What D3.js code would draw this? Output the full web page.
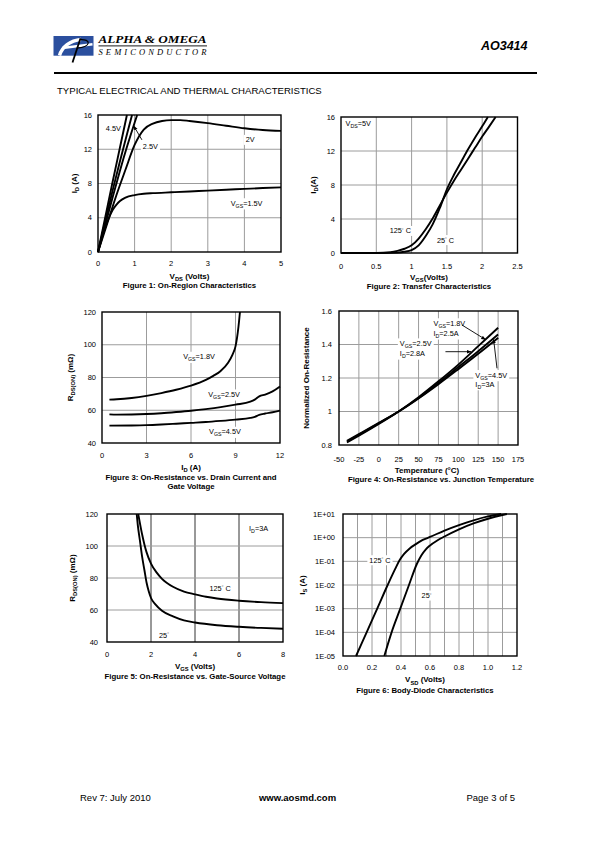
<!DOCTYPE html>
<html><head><meta charset="utf-8">
<script src="https://cdn.jsdelivr.net/npm/d3@7"></script>
<style>
body{margin:0;background:#fff}
svg{display:block}
text{fill:#000}
</style></head><body>
<script>
// ---------------- DATA ----------------
// Figure 1: On-Region Characteristics (VDS V, ID A)
const f1XTicks = [0,1,2,3,4,5];
const f1YTicks = [0,4,8,12,16];
const f1Vgs45 = [[0,0],[0.2,4.1],[0.4,8.2],[0.6,12.2],[0.79,16]];
const f1Vgs3  = [[0,0],[0.2,3.6],[0.4,7.2],[0.6,10.6],[0.8,13.9],[0.93,16]];
const f1Vgs25 = [[0,0],[0.2,3.2],[0.4,6.4],[0.6,9.5],[0.8,12.4],[1.0,15.1],[1.07,16]];
const f1Vgs2  = [[0,0],[0.25,3.3],[0.5,6.6],[0.75,9.6],[1.0,12.5],[1.25,14.3],[1.5,15.0],[1.75,15.3],[2.0,15.4],[2.25,15.4],[2.5,15.3],[3,15.05],[3.5,14.75],[4,14.45],[4.5,14.25],[5,14.15]];
const f1Vgs15 = [[0,0],[0.1,1.5],[0.2,2.9],[0.3,4.0],[0.4,4.9],[0.5,5.5],[0.6,5.95],[0.75,6.35],[1.0,6.65],[1.25,6.8],[1.5,6.87],[2,6.97],[2.5,7.07],[3,7.17],[3.5,7.27],[4,7.37],[4.5,7.47],[5,7.55]];

// Figure 2: Transfer Characteristics (VGS V, ID A)
const f2XTicks = [0,0.5,1,1.5,2,2.5];
const f2YTicks = [0,4,8,12,16];
const f2T25  = [[0,0],[0.6,0],[0.8,0.05],[0.9,0.15],[1.0,0.35],[1.1,0.9],[1.2,2.0],[1.3,3.4],[1.4,5.3],[1.5,7.5],[1.6,9.2],[1.7,10.7],[1.8,12.2],[1.9,13.6],[2.0,14.9],[2.08,16]];
const f2T125 = [[0,0],[0.5,0.01],[0.7,0.1],[0.8,0.25],[0.9,0.5],[1.0,0.9],[1.1,1.7],[1.2,2.8],[1.3,4.1],[1.4,5.6],[1.5,7.1],[1.6,8.5],[1.7,9.8],[1.8,11.1],[1.9,12.4],[2.0,13.7],[2.1,14.9],[2.19,16]];

// Figure 3: On-Resistance vs Drain Current (ID A, RDS mOhm)
const f3XTicks = [0,3,6,9,12];
const f3YTicks = [40,60,80,100,120];
const f3Vgs18 = [[0.5,66.5],[1,66.7],[2,67.5],[3,68.8],[4,70.5],[5,72.5],[6,75],[7,78.5],[7.5,81],[8,84],[8.5,89],[8.8,94],[9,99],[9.1,104],[9.2,111],[9.3,120]];
const f3Vgs25 = [[0.5,57.5],[1,57.3],[2,57.4],[3,57.7],[4,58.2],[5,58.9],[6,59.7],[7,60.7],[8,61.9],[9,63.4],[10,65.2],[10.3,66.5],[10.6,68.5],[11,69.6],[11.5,71.5],[12,74.5]];
const f3Vgs45 = [[0.5,50.6],[2,50.7],[3,50.9],[4,51.3],[5,51.8],[6,52.3],[7,52.8],[8,53.5],[9,54.3],[10,55.3],[10.3,56],[10.6,57.2],[11,58],[11.5,58.8],[12,59.8]];

// Figure 4: Normalized On-Resistance vs Junction Temperature
const f4XTicks = [-50,-25,0,25,50,75,100,125,150,175];
const f4YTicks = [0.8,1,1.2,1.4,1.6];
const f4Vgs18 = [[-40,0.815],[-25,0.855],[0,0.925],[25,1.0],[50,1.085],[75,1.18],[100,1.28],[125,1.39],[150,1.50]];
const f4Vgs25 = [[-40,0.82],[-25,0.86],[0,0.93],[25,1.0],[50,1.08],[75,1.17],[100,1.265],[125,1.36],[150,1.46]];
const f4Vgs45 = [[-40,0.825],[-25,0.865],[0,0.932],[25,1.0],[50,1.078],[75,1.163],[100,1.253],[125,1.345],[150,1.44]];

// Figure 5: On-Resistance vs Gate-Source Voltage (VGS V, RDS mOhm)
const f5XTicks = [0,2,4,6,8];
const f5YTicks = [40,60,80,100,120];
const f5T125 = [[1.42,120],[1.5,114],[1.6,107],[1.7,101],[1.8,96],[2.0,89],[2.25,83.5],[2.5,79.5],[3,74.5],[3.5,71.5],[4,69.8],[4.5,68.3],[5,67.2],[6,65.8],[7,64.9],[8,64.3]];
const f5T25  = [[1.35,120],[1.4,113],[1.5,103],[1.6,93],[1.7,85],[1.8,77],[1.9,71.5],[2.0,67.5],[2.2,63.5],[2.5,59.5],[3,56],[3.5,53.5],[4,52.2],[5,50.5],[6,49.5],[7,48.8],[8,48.3]];

// Figure 6: Body-Diode Characteristics (VSD V, IS A)
const f6XTicks = [0,0.2,0.4,0.6,0.8,1.0,1.2];
const f6YTicks = [1e-5,1e-4,1e-3,1e-2,1e-1,1,10];
const f6YLabels = ["1E-05","1E-04","1E-03","1E-02","1E-01","1E+00","1E+01"];
const f6T125 = [[0.09,1e-5],[0.163,1e-4],[0.236,1e-3],[0.308,1e-2],[0.36,0.048],[0.39,0.11],[0.42,0.2],[0.46,0.35],[0.5,0.52],[0.55,0.8],[0.6,1.07],[0.7,2.0],[0.8,3.4],[0.9,5.4],[1.0,7.9],[1.09,10]];
const f6T25  = [[0.285,1e-5],[0.335,1e-4],[0.395,1e-3],[0.455,1e-2],[0.51,0.079],[0.54,0.178],[0.57,0.316],[0.6,0.468],[0.65,0.76],[0.7,1.12],[0.8,2.24],[0.9,3.98],[1.0,6.3],[1.1,9.1],[1.13,10]];

// ---------------- DRAWING ----------------
const SANS = '"Liberation Sans",Arial,sans-serif';
const SERIF = '"Liberation Serif","Times New Roman",serif';
const svg = d3.select('body').append('svg').attr('width',595).attr('height',842).style('font-family',SANS);
svg.append('rect').attr('width',595).attr('height',842).attr('fill','#fff');
const defs = svg.append('defs');
defs.append('marker').attr('id','arr').attr('viewBox','0 0 10 10').attr('refX',9).attr('refY',5)
  .attr('markerWidth',5).attr('markerHeight',5).attr('orient','auto-start-reverse')
  .append('path').attr('d','M0,1 L10,5 L0,9 z').attr('fill','#000');

// rich text: parts = [[str, mode]] mode: 'sub' | 'sup' | undefined
function rich(sel, parts, fs) {
  let shift = 0;
  parts.forEach(p => {
    const t = sel.append('tspan').text(p[0]);
    let target = 0, size = fs;
    if (p[1] === 'sub') { target = fs*0.3; size = fs*0.72; }
    if (p[1] === 'sup') { target = -fs*0.35; size = fs*0.6; }
    t.attr('font-size', size);
    if (target !== shift) { t.attr('dy', target - shift); shift = target; }
  });
  return sel;
}

// Header
const logo = svg.append('g');
logo.append('rect').attr('x',53.5).attr('y',36).attr('width',40).attr('height',19.7).attr('fill','#2b4f9e');
logo.append('path').attr('d','M59.5,55.5 C62,47 70,40.5 81,39.5').attr('stroke','#fff').attr('stroke-width',3.4).attr('fill','none');
logo.append('path').attr('d','M62.5,48 L92.5,44.3').attr('stroke','#fff').attr('stroke-width',2.4).attr('fill','none');
logo.append('path').attr('d','M80.5,38.2 L72.5,62.5').attr('stroke','#000').attr('stroke-width',1.8).attr('fill','none');
logo.append('path').attr('d','M80,39.6 C91,38.8 92,46.5 76.8,48.2').attr('stroke','#000').attr('stroke-width',1.2).attr('fill','none');
svg.append('text').attr('x',98.5).attr('y',43.3).style('font-family',SERIF)
  .attr('font-weight','bold').attr('font-style','italic').attr('font-size',9.6)
  .attr('textLength',108).attr('lengthAdjust','spacingAndGlyphs').text('ALPHA & OMEGA');
svg.append('line').attr('x1',98.5).attr('x2',207).attr('y1',45.9).attr('y2',45.9).attr('stroke','#000').attr('stroke-width',0.9);
svg.append('text').attr('x',98.5).attr('y',54.5).style('font-family',SERIF)
  .attr('font-style','italic').attr('font-size',8.5)
  .attr('textLength',108).attr('lengthAdjust','spacing').text('SEMICONDUCTOR');
svg.append('text').attr('x',527.5).attr('y',49.5).attr('text-anchor','end').attr('font-weight','bold')
  .attr('font-style','italic').attr('font-size',12.5).text('AO3414');
svg.append('rect').attr('x',54).attr('y',72).attr('width',483).attr('height',2).attr('fill','#000');
svg.append('text').attr('x',57).attr('y',93.5).attr('font-size',9.6).text('TYPICAL ELECTRICAL AND THERMAL CHARACTERISTICS');

// Footer
svg.append('text').attr('x',80).attr('y',800.5).attr('font-size',9.5).text('Rev 7: July 2010');
svg.append('text').attr('x',297.5).attr('y',800.5).attr('font-size',9.5).attr('font-weight','bold').attr('text-anchor','middle').text('www.aosmd.com');
svg.append('text').attr('x',515).attr('y',800.5).attr('font-size',9.5).attr('text-anchor','end').text('Page 3 of 5');

const TICK_FS = 7.5, LBL_FS = 8, TITLE_FS = 7.8, ANN_FS = 7.3;

function panel(c) {
  const x = d3.scaleLinear().domain(c.xDomain).range([c.left, c.right]);
  const y = (c.yLog ? d3.scaleLog() : d3.scaleLinear()).domain(c.yDomain).range([c.bottom, c.top]);
  const g = svg.append('g');
  const gridL = g.append('g'), bgL = g.append('g'), curveL = g.append('g'), frameL = g.append('g'), txtL = g.append('g');
  gridL.selectAll('line.v').data(c.xGrid).join('line').attr('class','v')
    .attr('x1',d=>x(d)).attr('x2',d=>x(d)).attr('y1',c.top).attr('y2',c.bottom)
    .attr('stroke',c.vGridColor||'#9c9c9c').attr('stroke-width',1);
  gridL.selectAll('line.h').data(c.yGrid).join('line').attr('class','h')
    .attr('y1',d=>y(d)).attr('y2',d=>y(d)).attr('x1',c.left).attr('x2',c.right)
    .attr('stroke','#9c9c9c').attr('stroke-width',1);
  const line = d3.line().x(d=>x(d[0])).y(d=>y(d[1])).curve(d3.curveMonotoneX);
  c.series.forEach(s => curveL.append('path').attr('d', line(s)).attr('fill','none')
    .attr('stroke','#000').attr('stroke-width',1.9).attr('stroke-linejoin','round'));
  frameL.append('rect').attr('x',c.left).attr('y',c.top).attr('width',c.right-c.left).attr('height',c.bottom-c.top)
    .attr('fill','none').attr('stroke','#000').attr('stroke-width',1.4);
  (c.arrows||[]).forEach(a => txtL.append('line').attr('x1',x(a[0][0])).attr('y1',y(a[0][1]))
    .attr('x2',x(a[1][0])).attr('y2',y(a[1][1])).attr('stroke','#000').attr('stroke-width',0.9)
    .attr('marker-end','url(#arr)'));
  (c.labels||[]).forEach(l => {
    const t = txtL.append('text').attr('x',x(l.at[0])).attr('y',y(l.at[1]) + ANN_FS*0.35)
      .attr('text-anchor', l.anchor||'middle').attr('font-size',ANN_FS);
    rich(t, l.parts, ANN_FS);
    const b = t.node().getBBox();
    bgL.append('rect').attr('x',b.x-2).attr('y',b.y-0.5).attr('width',b.width+4).attr('height',b.height+1).attr('fill','#fff');
  });
  txtL.selectAll('text.xt').data(c.xTicks).join('text').attr('class','xt')
    .attr('x',d=>x(d)).attr('y',c.bottom + c.xTickGap + TICK_FS*0.35).attr('text-anchor','middle')
    .attr('font-size',TICK_FS).text((d,i)=> c.xFmt ? c.xFmt(d,i) : d);
  txtL.selectAll('text.yt').data(c.yTicks).join('text').attr('class','yt')
    .attr('x',c.left - c.yTickGap).attr('y',d=>y(d) + TICK_FS*0.35).attr('text-anchor','end')
    .attr('font-size',TICK_FS).text((d,i)=> c.yFmt ? c.yFmt(d,i) : d);
  const xl = txtL.append('text').attr('x',c.xLabelX).attr('y',c.xLabelY + LBL_FS*0.35).attr('text-anchor','middle')
    .attr('font-size',LBL_FS).attr('font-weight','bold');
  rich(xl, c.xLabel, LBL_FS);
  const yl = txtL.append('text').attr('transform',`translate(${c.yLabelX + LBL_FS*0.35},${(c.top+c.bottom)/2}) rotate(-90)`)
    .attr('text-anchor','middle').attr('font-size',LBL_FS).attr('font-weight','bold');
  rich(yl, c.yLabel, LBL_FS);
  c.title.forEach((tt,i) => txtL.append('text').attr('x',c.titleX).attr('y',c.titleY + i*9 + TITLE_FS*0.35)
    .attr('text-anchor','middle').attr('font-size',TITLE_FS).attr('font-weight','bold').text(tt));
}

const deg = [['°','sup'],[' C']];

panel({
  left:98, right:281, top:115, bottom:252, xDomain:[0,5], yDomain:[0,16],
  xGrid:[1,2,3,4], yGrid:[4,8,12], xTicks:f1XTicks, yTicks:f1YTicks, xTickGap:11, yTickGap:6,
  series:[f1Vgs45,f1Vgs3,f1Vgs25,f1Vgs2,f1Vgs15],
  labels:[
    {at:[0.42,14.4], parts:[['4.5V']]},
    {at:[1.43,12.3], parts:[['2.5V']]},
    {at:[4.16,13.1], parts:[['2V']]},
    {at:[4.06,5.7], parts:[['V'],['GS','sub'],['=1.5V']]}
  ],
  arrows:[[[1.2,13.1],[0.98,14.7]]],
  xLabel:[['V'],['DS','sub'],[' (Volts)']], xLabelX:189.5, xLabelY:276,
  yLabel:[['I'],['D','sub'],[' (A)']], yLabelX:74,
  title:['Figure 1: On-Region Characteristics'], titleX:189.5, titleY:285
});

panel({
  left:341, right:517.5, top:117, bottom:253, xDomain:[0,2.5], yDomain:[0,16],
  xGrid:[0.5,1,1.5,2], yGrid:[4,8,12], xTicks:f2XTicks, yTicks:f2YTicks, xTickGap:13, yTickGap:6,
  series:[f2T25,f2T125],
  labels:[
    {at:[0.064,15.3], parts:[['V'],['DS','sub'],['=5V']], anchor:'start'},
    {at:[0.84,2.6], parts:[['125']].concat(deg)},
    {at:[1.48,1.53], parts:[['25']].concat(deg)}
  ],
  xLabel:[['V'],['GS','sub'],['(Volts)']], xLabelX:429, xLabelY:277,
  yLabel:[['I'],['D','sub'],['(A)']], yLabelX:313,
  title:['Figure 2: Transfer Characteristics'], titleX:429, titleY:286
});

panel({
  left:102, right:280, top:312, bottom:443, xDomain:[0,12], yDomain:[40,120],
  xGrid:[3,6,9], yGrid:[60,80,100], xTicks:f3XTicks, yTicks:f3YTicks, xTickGap:12, yTickGap:6,
  series:[f3Vgs18,f3Vgs25,f3Vgs45],
  labels:[
    {at:[6.54,92.7], parts:[['V'],['GS','sub'],['=1.8V']]},
    {at:[8.23,69.7], parts:[['V'],['GS','sub'],['=2.5V']]},
    {at:[8.29,46.9], parts:[['V'],['GS','sub'],['=4.5V']]}
  ],
  xLabel:[['I'],['D','sub'],[' (A)']], xLabelX:191, xLabelY:467,
  yLabel:[['R'],['DS(ON)','sub'],[' (m\u03A9)']], yLabelX:70,
  title:['Figure 3: On-Resistance vs. Drain Current and','Gate Voltage'], titleX:191, titleY:477
});

panel({
  left:339, right:518, top:311, bottom:445, xDomain:[-50,175], yDomain:[0.8,1.6],
  xGrid:[-25,0,25,50,75,100,125,150], yGrid:[1,1.2,1.4], xTicks:f4XTicks, yTicks:f4YTicks, xTickGap:14, yTickGap:7,
  series:[f4Vgs18,f4Vgs25,f4Vgs45],
  labels:[
    {at:[68.8,1.527], parts:[['V'],['GS','sub'],['=1.8V']], anchor:'start'},
    {at:[68.8,1.467], parts:[['I'],['D','sub'],['=2.5A']], anchor:'start'},
    {at:[26.5,1.407], parts:[['V'],['GS','sub'],['=2.5V']], anchor:'start'},
    {at:[26.5,1.347], parts:[['I'],['D','sub'],['=2.8A']], anchor:'start'},
    {at:[121.4,1.218], parts:[['V'],['GS','sub'],['=4.5V']], anchor:'start'},
    {at:[121.4,1.164], parts:[['I'],['D','sub'],['=3A']], anchor:'start'}
  ],
  arrows:[[[104.7,1.516],[134,1.43]],[[83.8,1.357],[116,1.357]],[[148.6,1.258],[144.4,1.43]]],
  xLabel:[['Temperature (°C)']], xLabelX:427, xLabelY:470,
  yLabel:[['Normalized On-Resistance']], yLabelX:306,
  title:['Figure 4: On-Resistance vs. Junction Temperature'], titleX:441, titleY:479
});

panel({
  left:107, right:283, top:514, bottom:642, xDomain:[0,8], yDomain:[40,120],
  xGrid:[2,4,6], yGrid:[60,80,100], vGridColor:'#333', xTicks:f5XTicks, yTicks:f5YTicks, xTickGap:12, yTickGap:9,
  series:[f5T125,f5T25],
  labels:[
    {at:[6.89,111], parts:[['I'],['D','sub'],['=3A']]},
    {at:[5.14,73.75], parts:[['125']].concat(deg)},
    {at:[2.59,44.4], parts:[['25'],['°','sup']]}
  ],
  xLabel:[['V'],['GS','sub'],[' (Volts)']], xLabelX:195, xLabelY:666,
  yLabel:[['R'],['DS(ON)','sub'],[' (m\u03A9)']], yLabelX:72,
  title:['Figure 5: On-Resistance vs. Gate-Source Voltage'], titleX:195, titleY:676
});

panel({
  left:343, right:517, top:514, bottom:656, xDomain:[0,1.2], yDomain:[1e-5,10], yLog:true,
  xGrid:[0.1,0.2,0.3,0.4,0.5,0.6,0.7,0.8,0.9,1.0,1.1], yGrid:[1e-4,1e-3,1e-2,1e-1,1],
  xTicks:f6XTicks, yTicks:f6YTicks, xTickGap:11, yTickGap:8,
  xFmt:d=>d3.format('.1f')(d), yFmt:(d,i)=>f6YLabels[i],
  series:[f6T125,f6T25],
  labels:[
    {at:[0.255,0.112], parts:[['125']].concat(deg)},
    {at:[0.576,0.0036], parts:[['25'],['°','sup']]}
  ],
  xLabel:[['V'],['SD','sub'],[' (Volts)']], xLabelX:425, xLabelY:679.5,
  yLabel:[['I'],['S','sub'],[' (A)']], yLabelX:302,
  title:['Figure 6: Body-Diode Characteristics'], titleX:425, titleY:690
});
</script>
</body></html>
